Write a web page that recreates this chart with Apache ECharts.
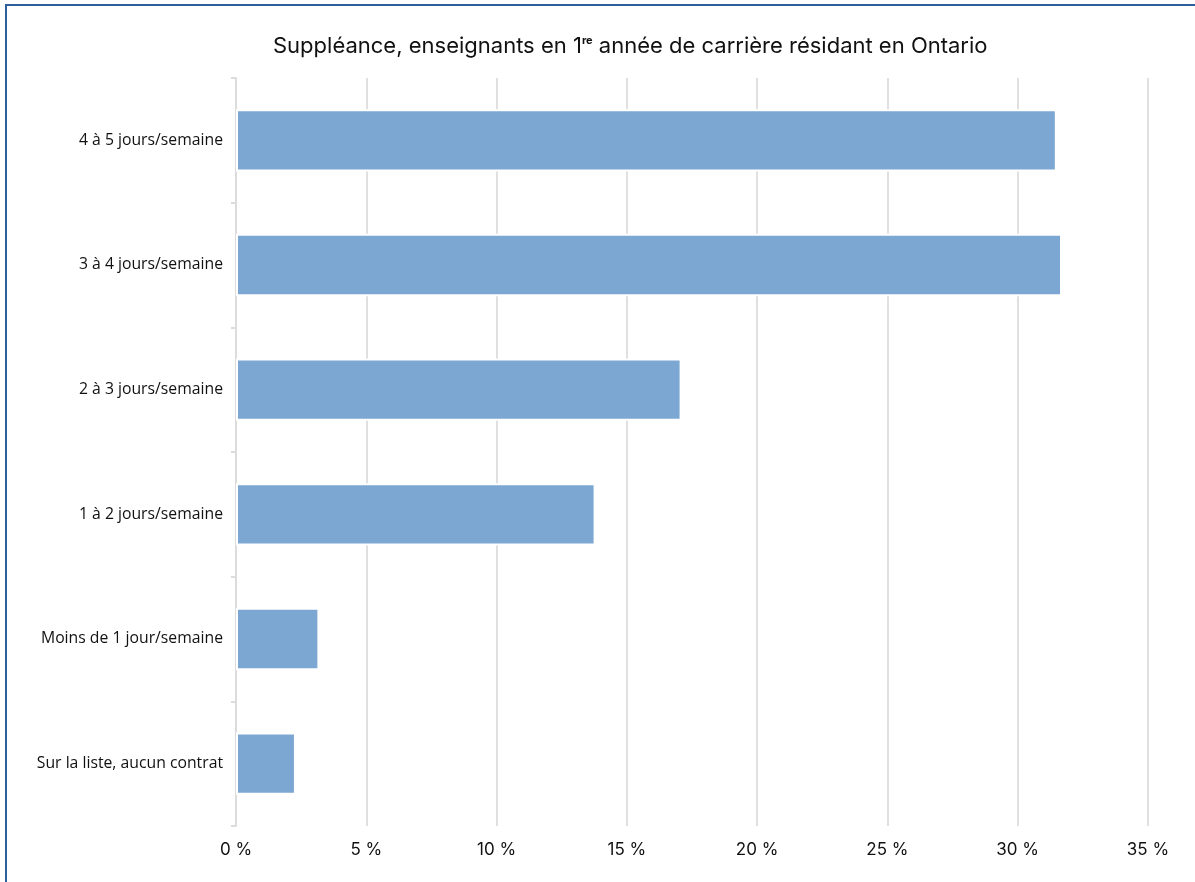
<!DOCTYPE html>
<html><head><meta charset="utf-8">
<script src="https://cdn.jsdelivr.net/npm/echarts@6/dist/echarts.min.js"></script>
<style>html,body{margin:0;padding:0;background:#fff;}#c{width:1195px;height:882px;}</style>
</head><body><div id="c"></div>
<script>
const categories = ["Sur la liste, aucun contrat","Moins de 1 jour/semaine","1 à 2 jours/semaine","2 à 3 jours/semaine","3 à 4 jours/semaine","4 à 5 jours/semaine"];
const values = [2.3, 3.2, 13.8, 17.1, 31.7, 31.5];
const xTicks = [0,5,10,15,20,25,30,35];

const chart = echarts.init(document.getElementById('c'));
chart.setOption({
  animation:false,
  backgroundColor:'#fff',
  graphic:[{type:'rect',shape:{x:6,y:5,width:1250,height:950},style:{fill:'none',stroke:'#2F5E9F',lineWidth:2},silent:true}],
  title:{
    text:'{t|Suppléance, enseignants en 1}{s|re}{t| année de carrière résidant en Ontario}',
    left:268, top:30,
    textStyle:{rich:{
      t:{fontFamily:'Inter',fontSize:22,color:'#111',fontWeight:400},
      s:{fontFamily:'Inter',fontSize:11,color:'#111',verticalAlign:'top',padding:[0,0,9,0]}
    }}
  },
  grid:{left:236,right:47,top:78,bottom:56,containLabel:false},
  xAxis:{
    type:'value',min:0,max:35,interval:5,
    axisLine:{show:false},axisTick:{show:false},
    splitLine:{lineStyle:{color:'#e2e0de',width:2}},
    axisLabel:{formatter:v=>v+' %',fontFamily:'Inter',fontSize:17,color:'#111',margin:15}
  },
  yAxis:{
    type:'category',data:categories,
    axisLine:{lineStyle:{color:'#dcdcdc',width:2}},
    axisTick:{show:true,length:5,lineStyle:{color:'#dcdcdc',width:2}},
    axisLabel:{fontFamily:'Open Sans',fontSize:15.75,color:'#111',margin:13}
  },
  series:[{
    type:'bar',data:values,barWidth:'50%',
    itemStyle:{color:'#7BA7D2',borderColor:'#ffffff',borderWidth:2}
  }]
});
</script></body></html>
